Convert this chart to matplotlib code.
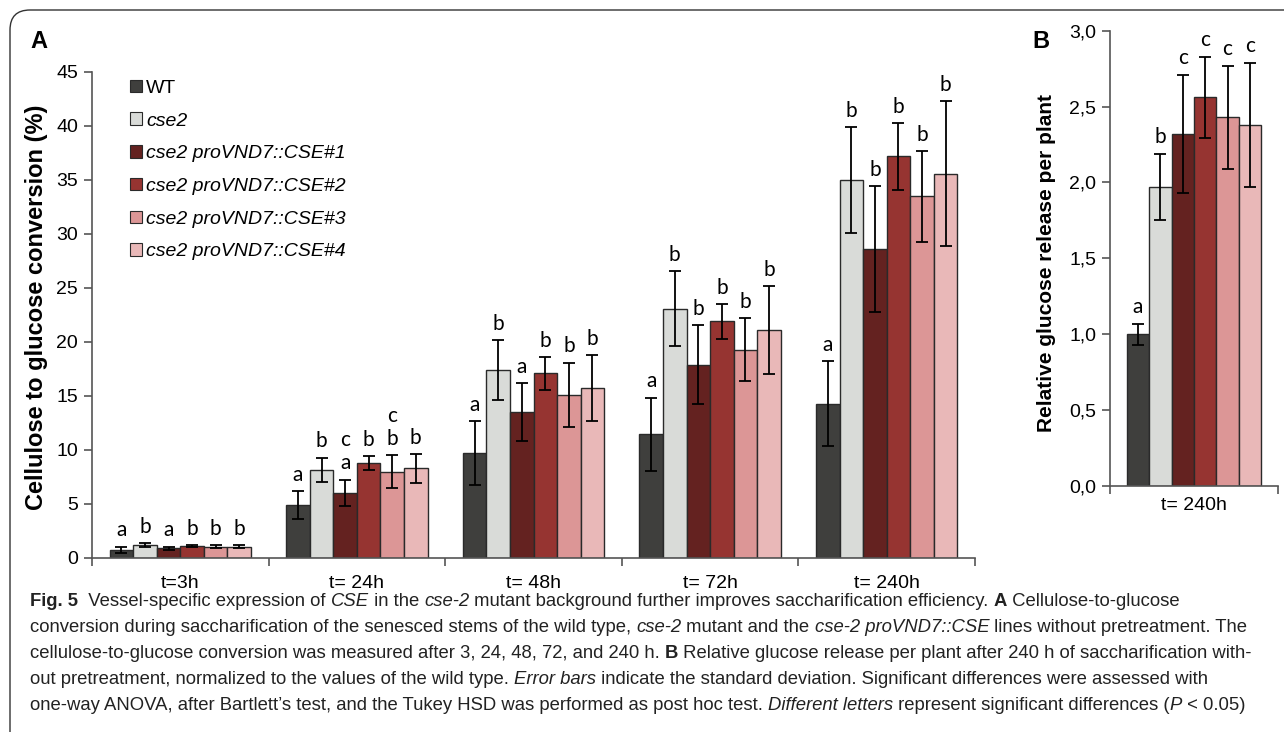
import numpy as np
import matplotlib
matplotlib.use('Agg')
import matplotlib.pyplot as plt
from matplotlib import font_manager
from matplotlib.patches import FancyBboxPatch
from matplotlib.ticker import FuncFormatter

plt.rcParams['font.family'] = ['Liberation Sans', 'DejaVu Sans']

# ---- data ----
lines = ['WT', 'cse2', 'cse2 proVND7::CSE#1', 'cse2 proVND7::CSE#2',
         'cse2 proVND7::CSE#3', 'cse2 proVND7::CSE#4']
colors = ['#3f3f3d', '#d9dbd8', '#642220', '#963431', '#dc9696', '#e9b8b8']
times = ['t=3h', 't= 24h', 't= 48h', 't= 72h', 't= 240h']

# panel A: cellulose to glucose conversion (%), one list per line, over times
conv_wt = [0.75, 4.9, 9.7, 11.45, 14.3]
conv_cse2 = [1.2, 8.15, 17.4, 23.1, 35.0]
conv_l1 = [0.9, 6.05, 13.5, 17.9, 28.6]
conv_l2 = [1.1, 8.8, 17.1, 21.9, 37.2]
conv_l3 = [1.05, 8.0, 15.1, 19.3, 33.5]
conv_l4 = [1.05, 8.3, 15.7, 21.1, 35.6]

sd_wt = [0.3, 1.3, 2.95, 3.4, 3.9]
sd_cse2 = [0.2, 1.15, 2.8, 3.45, 4.9]
sd_l1 = [0.15, 1.2, 2.7, 3.65, 5.85]
sd_l2 = [0.1, 0.65, 1.5, 1.6, 3.1]
sd_l3 = [0.12, 1.5, 3.0, 2.9, 4.2]
sd_l4 = [0.15, 1.33, 3.06, 4.1, 6.7]

let_wt = ['a', 'a', 'a', 'a', 'a']
let_cse2 = ['b', 'b', 'b', 'b', 'b']
let_l1 = ['a', 'c\na', 'a', 'b', 'b']
let_l2 = ['b', 'b', 'b', 'b', 'b']
let_l3 = ['b', 'c\nb', 'b', 'b', 'b']
let_l4 = ['b', 'b', 'b', 'b', 'b']

# panel B: relative glucose release per plant at 240 h
rel_glc = [1.0, 1.97, 2.32, 2.56, 2.43, 2.38]
rel_sd = [0.07, 0.22, 0.39, 0.27, 0.34, 0.41]
rel_let = ['a', 'b', 'c', 'c', 'c', 'c']

conv = [conv_wt, conv_cse2, conv_l1, conv_l2, conv_l3, conv_l4]
sds = [sd_wt, sd_cse2, sd_l1, sd_l2, sd_l3, sd_l4]
lets = [let_wt, let_cse2, let_l1, let_l2, let_l3, let_l4]

W, H = 1284, 732
fig = plt.figure(figsize=(W / 100, H / 100), dpi=100)

# rounded frame around the figure (top/left edges visible)
frame = FancyBboxPatch((0.10, -1.0), 20, 8.22, boxstyle='round,pad=0,rounding_size=0.2',
                       transform=fig.dpi_scale_trans, fill=False, ec='#333333', lw=1.0)
fig.patches.append(frame)

edge = '#2a2a2a'
nb = len(lines)
bw = 0.8 / nb
letter_font = ['Lato', 'DejaVu Sans']
letter_size = 15

# ---- panel A ----
axA = fig.add_axes([92 / W, 1 - 558 / H, 883 / W, 486 / H])
x = np.arange(len(times))
for i in range(nb):
    xs = x - 0.4 + bw * (i + 0.5)
    axA.bar(xs, conv[i], bw, color=colors[i], edgecolor=edge, lw=1.0,
            label=lines[i], zorder=2)
    axA.errorbar(xs, conv[i], yerr=sds[i], fmt='none', ecolor='black',
                 elinewidth=1.3, capsize=4, capthick=1.3, zorder=3)
    for j in range(len(times)):
        axA.annotate(lets[i][j], (xs[j], conv[i][j] + sds[i][j]), xytext=(0, 4.5),
                     textcoords='offset points', ha='center', va='bottom',
                     fontsize=letter_size, family=letter_font, linespacing=1.2)

axA.set_xlim(-0.5, len(times) - 0.5)
axA.set_ylim(0, 45)
axA.set_yticks(np.arange(0, 46, 5))
axA.set_xticks(x)
axA.set_xticklabels(times)
axA.set_xticks(np.arange(-0.5, len(times), 1), minor=True)
axA.tick_params(axis='x', which='major', length=0, pad=12, labelsize=14)
axA.tick_params(axis='x', which='minor', length=6, width=1.2, color='#555555')
axA.tick_params(axis='y', length=6, width=1.2, color='#555555', labelsize=14, pad=4)
for s in ['top', 'right']:
    axA.spines[s].set_visible(False)
for s in ['left', 'bottom']:
    axA.spines[s].set_color('#555555')
    axA.spines[s].set_linewidth(1.2)
axA.set_ylabel('Cellulose to glucose conversion (%)', fontsize=17, fontweight='bold')
axA.yaxis.set_label_coords(-0.050, 0.515)

leg = axA.legend(loc='upper left', bbox_to_anchor=(0.043, 0.984), frameon=False,
                 fontsize=14, handlelength=0.62, handleheight=0.62,
                 handletextpad=0.2, labelspacing=0.8, borderpad=0, borderaxespad=0)
for t in leg.get_texts()[1:]:
    t.set_style('italic')
for h in leg.legend_handles:
    h.set_linewidth(0.8)

# ---- panel B ----
axB = fig.add_axes([1110 / W, 1 - 486 / H, 168 / W, 455.3 / H])
xb = -0.4 + bw * (np.arange(nb) + 0.5)
axB.bar(xb, rel_glc, bw, color=colors, edgecolor=edge, lw=1.0, zorder=2)
axB.errorbar(xb, rel_glc, yerr=rel_sd, fmt='none', ecolor='black',
             elinewidth=1.3, capsize=4, capthick=1.3, zorder=3)
for i in range(nb):
    axB.annotate(rel_let[i], (xb[i], rel_glc[i] + rel_sd[i]), xytext=(0, 4.5),
                 textcoords='offset points', ha='center', va='bottom',
                 fontsize=letter_size, family=letter_font)
axB.set_xlim(-0.5, 0.5)
axB.set_ylim(0, 3)
axB.set_yticks(np.arange(0, 3.01, 0.5))
axB.yaxis.set_major_formatter(FuncFormatter(lambda v, p: f'{v:.1f}'.replace('.', ',')))
axB.set_xticks([0])
axB.set_xticklabels(['t= 240h'])
axB.set_xticks([-0.5, 0.5], minor=True)
axB.tick_params(axis='x', which='major', length=0, pad=8, labelsize=14)
axB.tick_params(axis='x', which='minor', length=6, width=1.2, color='#555555')
axB.tick_params(axis='y', length=6, width=1.2, color='#555555', labelsize=14, pad=4)
for s in ['top', 'right']:
    axB.spines[s].set_visible(False)
for s in ['left', 'bottom']:
    axB.spines[s].set_color('#555555')
    axB.spines[s].set_linewidth(1.2)
axB.set_ylabel('Relative glucose release per plant', fontsize=15, fontweight='bold')
axB.yaxis.set_label_coords(-0.322, 0.49)

fig.text(30 / W, 1 - 42 / H, 'A', fontsize=17, fontweight='bold', va='center')
fig.text(1032 / W, 1 - 42 / H, 'B', fontsize=17, fontweight='bold', va='center')

# ---- caption ----
try:
    font_manager.findfont('Liberation Sans Narrow', fallback_to_default=False)
    cap_font = ['Liberation Sans Narrow', 'DejaVu Sans']
except Exception:
    cap_font = ['Liberation Sans', 'DejaVu Sans']

N, B, I = 'normal', 'bold', 'italic'
caption = [
    [('Fig. 5', B), ('  Vessel-specific expression of ', N), ('CSE', I), (' in the ', N),
     ('cse-2', I), (' mutant background further improves saccharification efficiency. ', N),
     ('A', B), (' Cellulose-to-glucose', N)],
    [('conversion during saccharification of the senesced stems of the wild type, ', N),
     ('cse-2', I), (' mutant and the ', N), ('cse-2 proVND7::CSE', I),
     (' lines without pretreatment. The', N)],
    [('cellulose-to-glucose conversion was measured after 3, 24, 48, 72, and 240 h. ', N),
     ('B', B), (' Relative glucose release per plant after 240 h of saccharification with-', N)],
    [('out pretreatment, normalized to the values of the wild type. ', N), ('Error bars', I),
     (' indicate the standard deviation. Significant differences were assessed with', N)],
    [('one-way ANOVA, after Bartlett\u2019s test, and the Tukey HSD was performed as post hoc test. ', N),
     ('Different letters', I), (' represent significant differences (', N), ('P', I),
     (' < 0.05)', N)],
]
renderer = fig.canvas.get_renderer()


def draw_line(segs, y, size):
    xpix = 30
    for txt, sty in segs:
        t = fig.text(xpix / W, y, txt, fontsize=size, family=cap_font, va='center',
                     fontweight='bold' if sty == B else 'normal',
                     style='italic' if sty == I else 'normal', color='#222222')
        xpix += t.get_window_extent(renderer).width
    return xpix


# size the caption so the widest line ends near the right edge
probe = draw_line(caption[2], -1, 12)
for t in fig.texts[-len(caption[2]):]:
    t.remove()
cap_size = 12 * (1257 - 30) / (probe - 30)
cap_size = min(cap_size, 14)
for k, segs in enumerate(caption):
    draw_line(segs, 1 - (601 + 26 * k) / H, cap_size)

fig.savefig('out.png', dpi=100)
